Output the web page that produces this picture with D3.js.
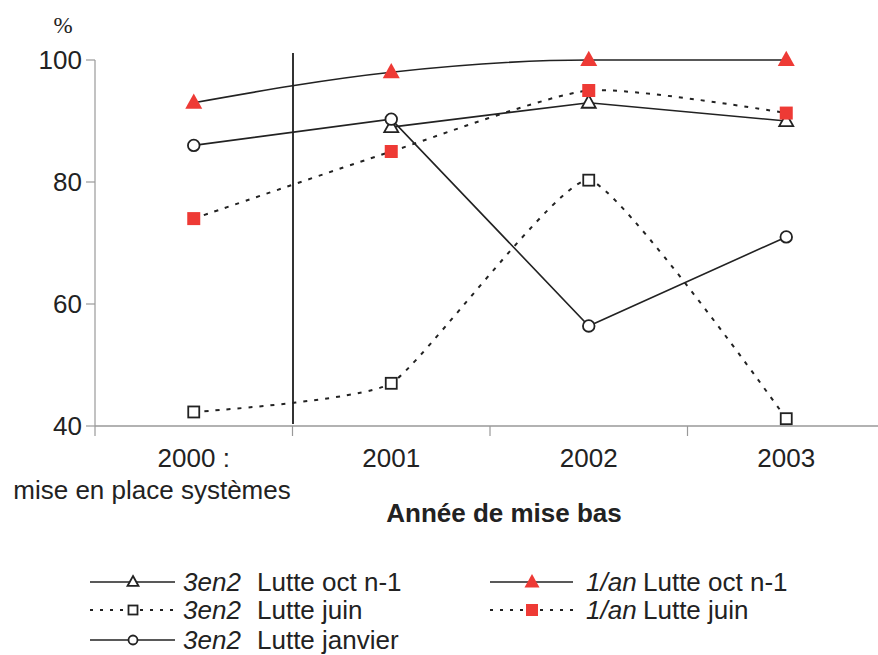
<!DOCTYPE html>
<html><head><meta charset="utf-8">
<script src="https://cdn.jsdelivr.net/npm/d3@7"></script>
<style>
body{margin:0;background:#fff;}
svg text{font-family:"Liberation Sans",Arial,sans-serif;fill:#222;}
</style></head>
<body><svg id="c" width="878" height="655"></svg>
<script>
const years = ["2000","2001","2002","2003"];
const yTicks = [40,60,80,100];
const s3en2Oct = [null, 89, 93, 90];
const s3en2Juin = [42.3, 47, 80.3, 41.2];
const s3en2Janv = [86, 90.3, 56.4, 71];
const s1anOct = [93, 98, 100, 100];
const s1anJuin = [74, 85, 95, 91.3];
const seriesNames = ["3en2 Lutte oct n-1","3en2 Lutte juin","3en2 Lutte janvier","1/an Lutte oct n-1","1/an Lutte juin"];

const svg = d3.select("#c");
const x = d3.scaleBand().domain(years).range([95, 885]);
const y = d3.scaleLinear().domain([40,100]).range([426, 60]);
const cx = d => x(d) + x.bandwidth()/2;

// axes
const gx = svg.append("g").attr("transform","translate(0,426)");
gx.append("line").attr("x1",95).attr("x2",878).attr("stroke","#999").attr("stroke-width",1.5);
[95].concat(years.slice(1).map(d=>x(d))).forEach(t=>{
  gx.append("line").attr("x1",t).attr("x2",t).attr("y1",0).attr("y2",10).attr("stroke","#999").attr("stroke-width",1.2);
});
const gy = svg.append("g");
gy.append("line").attr("x1",95).attr("x2",95).attr("y1",y(100)).attr("y2",y(40)).attr("stroke","#999").attr("stroke-width",1.2);
yTicks.forEach(t=>{
  gy.append("line").attr("x1",86).attr("x2",95).attr("y1",y(t)).attr("y2",y(t)).attr("stroke","#999").attr("stroke-width",1.2);
  gy.append("text").attr("x",82).attr("y",y(t)).attr("dy","0.35em").attr("text-anchor","end").attr("font-size",26).text(t);
});
svg.append("text").attr("x",63).attr("y",33).attr("text-anchor","middle").attr("font-size",23)
  .style("font-family","'Liberation Serif',serif").text("%");

// x labels
years.forEach((d,i)=>{
  const t = svg.append("text").attr("x",cx(d)).attr("y",467).attr("text-anchor","middle").attr("font-size",26);
  t.text(i===0 ? "2000 :" : d);
});
svg.append("text").attr("x",152).attr("y",499).attr("text-anchor","middle").attr("font-size",26).text("mise en place systèmes");
svg.append("text").attr("x",504).attr("y",522).attr("text-anchor","middle").attr("font-size",26).attr("font-weight","bold").text("Année de mise bas");

// vertical separator
svg.append("line").attr("x1",293).attr("x2",293).attr("y1",53).attr("y2",424).attr("stroke","#333").attr("stroke-width",2);

const red = "#ee3a35";
const dash = "4,7";
function pts(arr){ return years.map((d,i)=>({x:cx(d), y: arr[i]==null?null:y(arr[i]), v:arr[i]})).filter(p=>p.v!=null); }
function drawLine(arr, curve, dashed){
  const line = d3.line().x(p=>p.x).y(p=>p.y).curve(curve);
  svg.append("path").attr("d", line(pts(arr))).attr("fill","none").attr("stroke","#222")
    .attr("stroke-width",dashed?2:1.6).attr("stroke-dasharray", dashed?dash:null);
}
function tri(g, px, py, s, fill, stroke){
  const h = s*0.9;
  g.append("path").attr("d",`M${px},${py-h*0.6}L${px+s/2},${py+h*0.4}L${px-s/2},${py+h*0.4}Z`)
   .attr("fill",fill).attr("stroke",stroke).attr("stroke-width",stroke==="none"?0:1.8);
}
function sq(g, px, py, s, fill, stroke){
  g.append("rect").attr("x",px-s/2).attr("y",py-s/2).attr("width",s).attr("height",s)
   .attr("fill",fill).attr("stroke",stroke).attr("stroke-width",stroke==="none"?0:1.8);
}
function circ(g, px, py, r){
  g.append("circle").attr("cx",px).attr("cy",py).attr("r",r).attr("fill","#fff").attr("stroke","#222").attr("stroke-width",1.8);
}

drawLine(s3en2Juin, d3.curveCardinal.tension(0.55), true);
drawLine(s1anJuin, d3.curveCardinal.tension(0.4), true);
drawLine(s3en2Janv, d3.curveLinear, false);
drawLine(s3en2Oct, d3.curveLinear, false);
drawLine(s1anOct, d3.curveMonotoneX, false);

const gm = svg.append("g");
pts(s3en2Juin).forEach(p=>sq(gm,p.x,p.y,11,"#fff","#222"));
pts(s3en2Oct).forEach(p=>tri(gm,p.x,p.y,14,"#fff","#222"));
pts(s3en2Janv).forEach(p=>circ(gm,p.x,p.y,5.8));
pts(s1anJuin).forEach(p=>sq(gm,p.x,p.y,13,red,"none"));
pts(s1anOct).forEach(p=>tri(gm,p.x,p.y,17,red,"none"));

// legend
const lg = svg.append("g");
const rows = [
  {col:0,row:0,name:seriesNames[0],dashed:false,mk:"otri"},
  {col:0,row:1,name:seriesNames[1],dashed:true,mk:"osq"},
  {col:0,row:2,name:seriesNames[2],dashed:false,mk:"ocirc"},
  {col:1,row:0,name:seriesNames[3],dashed:false,mk:"rtri"},
  {col:1,row:1,name:seriesNames[4],dashed:true,mk:"rsq"}
];
const rowY = [582, 610, 640];
const colX = [{l:90,r:175,m:133,t1:183,t2:257},{l:490,r:573,m:532,t1:586,t2:643}];
rows.forEach(r=>{
  const c = colX[r.col], yy = rowY[r.row];
  lg.append("line").attr("x1",c.l).attr("x2",c.r).attr("y1",yy).attr("y2",yy).attr("stroke","#222")
    .attr("stroke-width",r.dashed?2:1.6).attr("stroke-dasharray", r.dashed?"3,7":null);
  if(r.mk==="otri") tri(lg,c.m,yy,11,"#fff","#222");
  if(r.mk==="osq") sq(lg,c.m,yy,9,"#fff","#222");
  if(r.mk==="ocirc") circ(lg,c.m,yy,4.5);
  if(r.mk==="rtri") tri(lg,c.m,yy,15,red,"none");
  if(r.mk==="rsq") sq(lg,c.m,yy,12,red,"none");
  const parts = r.name.split(" ");
  lg.append("text").attr("x",c.t1).attr("y",yy).attr("dy","0.36em").attr("font-size",26).attr("font-style","italic").text(parts[0]);
  lg.append("text").attr("x",c.t2).attr("y",yy).attr("dy","0.36em").attr("font-size",26).text(parts.slice(1).join(" "));
});
</script></body></html>
